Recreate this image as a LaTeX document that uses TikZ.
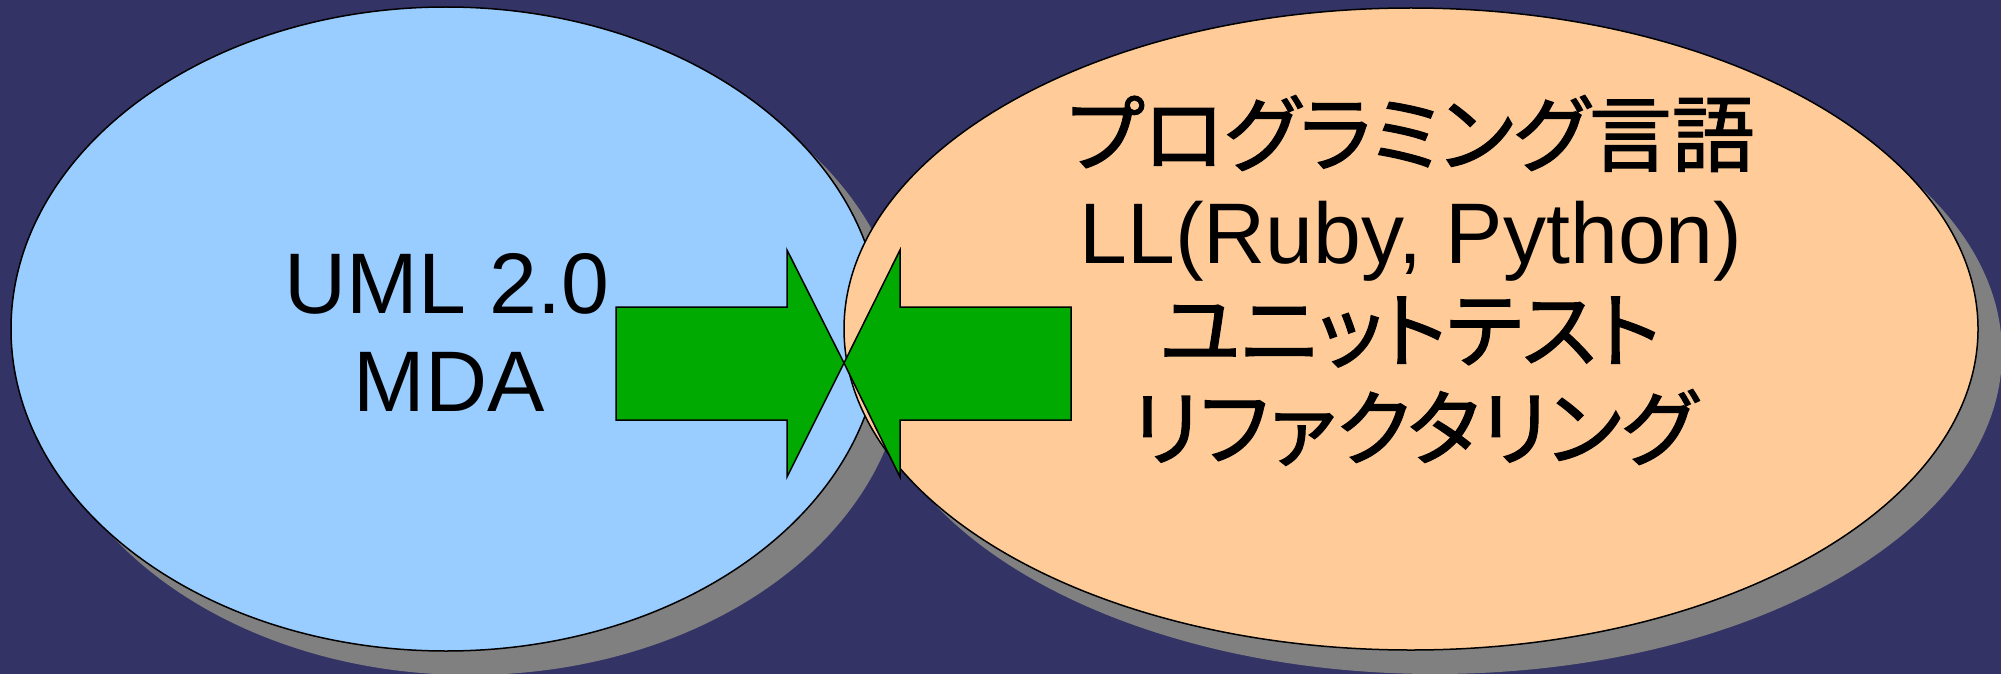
\documentclass[tikz,border=0pt]{standalone}
\usepackage{fontspec}
\setmainfont{Liberation Sans}
\newfontfamily\jpfont[RawFeature=+palt, FakeBold=1.5]{Noto Sans CJK JP}
\definecolor{bgnavy}{HTML}{333366}
\definecolor{skyblue}{HTML}{99CCFF}
\definecolor{peach}{HTML}{FFCC99}
\definecolor{arrowgreen}{HTML}{00AA00}
\definecolor{shadowgrey}{HTML}{808080}
\tikzset{
  bubble/.style={draw=black, line width=1.5pt},
  shadowfill/.style={fill=shadowgrey},
  blockarrow/.style={draw=black, fill=arrowgreen, line width=1.5pt, line join=miter},
  latintext/.style={anchor=base, inner sep=0pt, font=\fontsize{86}{98}\selectfont},
  jptext/.style={anchor=base, inner sep=0pt, font=\jpfont\fontsize{83}{98}\selectfont},
}
\begin{document}
\begin{tikzpicture}[x=1pt, y=-1pt]
\useasboundingbox (0,0) rectangle (2001,674);
\fill[bgnavy] (0,0) rectangle (2001,674);
% shadows and ellipses
\fill[shadowfill] (470,353) ellipse [x radius=435pt, y radius=322pt];
\filldraw[bubble, fill=skyblue] (446,329) ellipse [x radius=435pt, y radius=322pt];
\fill[shadowfill] (1435,353) ellipse [x radius=567pt, y radius=321pt];
\filldraw[bubble, fill=peach] (1411,329) ellipse [x radius=567pt, y radius=321pt];
% block arrows
\coordinate (tip) at (844,363);
\draw[blockarrow] (616,307) -- (787,307) -- (787,250) -- (tip) -- (787,477) -- (787,420) -- (616,420) -- cycle;
\draw[blockarrow] (1071,307) -- (900,307) -- (900,250) -- (tip) -- (900,477) -- (900,420) -- (1071,420) -- cycle;
% texts
\node[latintext] (uml) at (447,313) {UML 2.0};
\node[latintext] (mda) at (449,411) {MDA};
\node[jptext] (prog) at (1411,165) {プログラミング言語};
\node[latintext] (ll) at (1411,263) {LL(Ruby, Python)};
\node[jptext] (unit) at (1410,361) {ユニットテスト};
\node[jptext] (refac) at (1414,459) {リファクタリング};
\end{tikzpicture}
\end{document}
